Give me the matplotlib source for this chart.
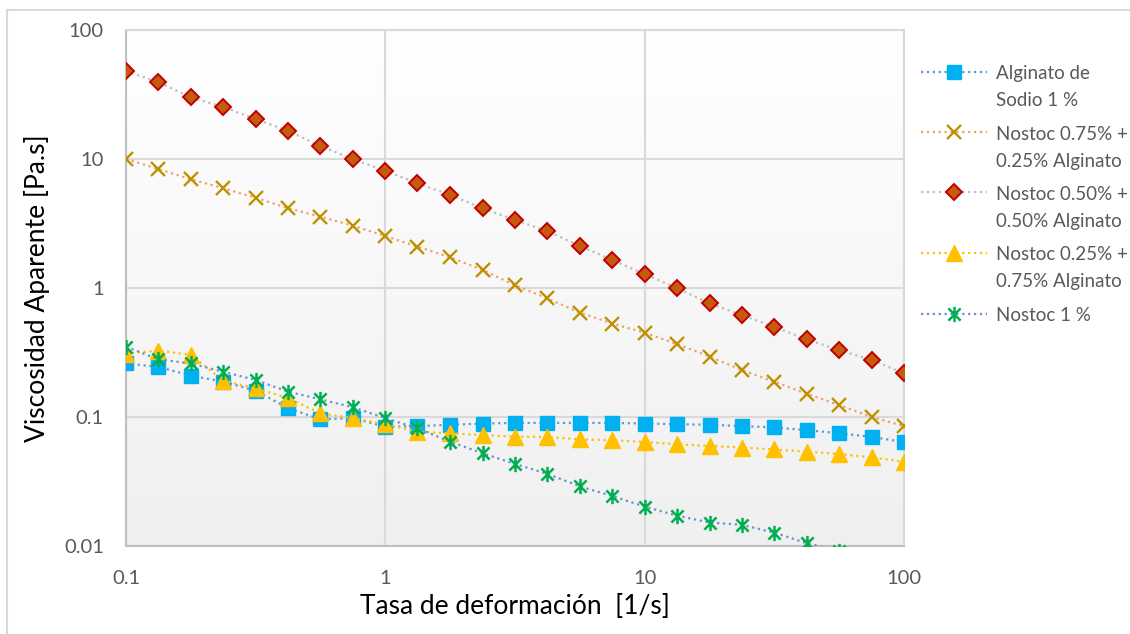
import numpy as np
import matplotlib
matplotlib.use("Agg")
import matplotlib.pyplot as plt
from matplotlib.path import Path
from matplotlib.lines import Line2D
from matplotlib.legend_handler import HandlerLine2D
from matplotlib.ticker import FixedLocator, FixedFormatter, NullLocator

plt.rcParams['font.family'] = ['Lato', 'DejaVu Sans']

# shear rate [1/s]
shear = [0.1, 0.133, 0.178, 0.237, 0.316, 0.422, 0.562, 0.75, 1.0,
         1.33, 1.78, 2.37, 3.16, 4.22, 5.62, 7.5, 10.0,
         13.3, 17.8, 23.7, 31.6, 42.2, 56.2, 75.0, 100.0]

# apparent viscosity [Pa.s]
alginato_1 = [0.26, 0.245, 0.209, 0.188, 0.16, 0.117, 0.096, 0.098, 0.084,
              0.085, 0.087, 0.089, 0.090, 0.090, 0.090, 0.090, 0.089,
              0.088, 0.087, 0.085, 0.083, 0.079, 0.075, 0.070, 0.064]
nostoc_075 = [10.0, 8.37, 6.96, 5.93, 5.01, 4.15, 3.57, 3.04, 2.53,
              2.09, 1.73, 1.38, 1.05, 0.83, 0.645, 0.53, 0.45,
              0.368, 0.294, 0.231, 0.188, 0.151, 0.124, 0.100, 0.085]
nostoc_050 = [48.0, 39.5, 30.0, 25.3, 20.4, 16.5, 12.6, 10.0, 8.07,
              6.49, 5.26, 4.15, 3.37, 2.75, 2.12, 1.65, 1.28,
              1.0, 0.76, 0.618, 0.50, 0.40, 0.33, 0.277, 0.218]
nostoc_025 = [0.31, 0.327, 0.303, 0.191, 0.167, 0.14, 0.107, 0.098, 0.088,
              0.077, 0.0747, 0.0725, 0.0703, 0.070, 0.067, 0.066, 0.064,
              0.0615, 0.0596, 0.058, 0.056, 0.0539, 0.0516, 0.0487, 0.045]
nostoc_1 = [0.351, 0.28, 0.26, 0.224, 0.194, 0.157, 0.137, 0.119, 0.098,
            0.0817, 0.0644, 0.0523, 0.0433, 0.0362, 0.029, 0.0244, 0.0202,
            0.0172, 0.0152, 0.0146, 0.0127, 0.0105, 0.0092, 0.008, 0.007]

labels = ["Alginato de\nSodio 1 %",
          "Nostoc 0.75% +\n0.25% Alginato",
          "Nostoc 0.50% +\n0.50% Alginato",
          "Nostoc 0.25% +\n0.75% Alginato",
          "Nostoc 1 %"]

x_ticks = [0.1, 1, 10, 100]
x_ticklabels = ["0.1", "1", "10", "100"]
y_ticks = [0.01, 0.1, 1, 10, 100]
y_ticklabels = ["0.01", "0.1", "1", "10", "100"]

# star marker: X with a vertical bar (Excel style)
star = Path([(-1, -1), (1, 1), (-1, 1), (1, -1), (0, -1.25), (0, 1.25)],
            [Path.MOVETO, Path.LINETO, Path.MOVETO, Path.LINETO, Path.MOVETO, Path.LINETO])

fig = plt.figure(figsize=(11.3, 6.34), dpi=100)
ax = fig.add_axes([126 / 1130, 1 - 546 / 634, (904 - 126) / 1130, (546 - 30) / 634])

# gradient plot-area background
grad = np.linspace(1.0, 0.94, 256).reshape(-1, 1)
ax.imshow(np.dstack([grad, grad, grad]), extent=[0, 1, 0, 1], transform=ax.transAxes,
          aspect='auto', zorder=0, interpolation='bilinear')

lw = 1.6
ax.plot(shear, alginato_1, ls=':', color='#5B9BD5', lw=lw, marker='s', ms=9.5,
        mfc='#00B0F0', mec='#00B0F0', label=labels[0], zorder=3)
ax.plot(shear, nostoc_075, ls=':', color='#F19E6B', lw=lw, marker='x', ms=10,
        mew=1.7, mec='#BF9000', label=labels[1], zorder=3)
ax.plot(shear, nostoc_050, ls=':', color='#BDBDBD', lw=lw, marker='D', ms=8.5,
        mfc='#C55A11', mec='#C00000', mew=1.4, label=labels[2], zorder=3)
ax.plot(shear, nostoc_025, ls=':', color='#FFC000', lw=lw, marker='^', ms=11,
        mfc='#FFC000', mec='#FFC000', label=labels[3], zorder=3)
ax.plot(shear, nostoc_1, ls=':', color='#6A8FD3', lw=lw, marker=star, ms=11,
        mew=1.8, mec='#00B050', mfc='none', label=labels[4], zorder=4)

ax.set_xscale('log')
ax.set_yscale('log')
ax.set_xlim(0.1, 100)
ax.set_ylim(0.01, 100)
ax.xaxis.set_major_locator(FixedLocator(x_ticks))
ax.xaxis.set_major_formatter(FixedFormatter(x_ticklabels))
ax.yaxis.set_major_locator(FixedLocator(y_ticks))
ax.yaxis.set_major_formatter(FixedFormatter(y_ticklabels))
ax.xaxis.set_minor_locator(NullLocator())
ax.yaxis.set_minor_locator(NullLocator())
ax.tick_params(length=0, labelsize=14.5, colors='#595959')
ax.tick_params(axis='y', pad=16)
ax.tick_params(axis='x', pad=17)
ax.grid(True, color='#D9D9D9', lw=1.5, zorder=1)
ax.set_axisbelow(True)
for side in ['left', 'bottom']:
    ax.spines[side].set_color('#BFBFBF')
    ax.spines[side].set_linewidth(1.5)
for side in ['top', 'right']:
    ax.spines[side].set_color('#D9D9D9')
    ax.spines[side].set_linewidth(1.5)

ax.set_xlabel('Tasa de deformación  [1/s]', fontsize=19, color='black', labelpad=5)
ax.set_ylabel('Viscosidad Aparente [Pa.s]', fontsize=19, color='black', labelpad=10)

LEG_FS = 13.5
LEG_LS = 1.7


class FirstLineHandler(HandlerLine2D):
    # put the legend sample beside the first line of a multi-line label
    def __init__(self, nlines, **kw):
        super().__init__(**kw)
        self.nlines = nlines

    def create_artists(self, legend, orig_handle, xdescent, ydescent, width, height,
                       fontsize, trans):
        artists = super().create_artists(legend, orig_handle, xdescent, ydescent,
                                         width, height, fontsize, trans)
        shift = (self.nlines - 1) * fontsize * 0.86
        for a in artists:
            a.set_ydata(np.asarray(a.get_ydata()) + shift)
        return artists


handles, lbls = ax.get_legend_handles_labels()
hmap = {h: FirstLineHandler(l.count('\n') + 1, numpoints=1) for h, l in zip(handles, lbls)}
leg = fig.legend(handles, lbls, loc='upper left', bbox_to_anchor=(914 / 1130, 1 - 58 / 634),
                 frameon=False, fontsize=LEG_FS, labelcolor='#595959', handlelength=3.5,
                 handletextpad=0.5, labelspacing=0.88, handler_map=hmap, borderaxespad=0)
for t in leg.get_texts():
    t.set_linespacing(LEG_LS)

# chart-area border (left and top edges visible)
fig.add_artist(Line2D([6.5 / 1130, 6.5 / 1130], [0, 1 - 9.5 / 634], color='#D9D9D9', lw=1.5))
fig.add_artist(Line2D([6.5 / 1130, 1], [1 - 9.5 / 634, 1 - 9.5 / 634], color='#D9D9D9', lw=1.5))

fig.savefig('out.png', dpi=100)
